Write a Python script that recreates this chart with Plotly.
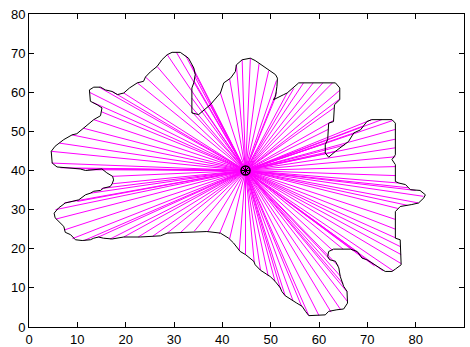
import plotly.graph_objects as go

# Boundary polygon (x, y), clockwise from the leftmost point
poly_x = [4.6, 5.4, 7.2, 8.9, 9.9, 11.3, 13.4, 14.8, 15.1, 14.1, 12.7, 12.5, 13.4, 14.8, 15.8, 17.2,
          18.3, 19.6, 20.8, 22.4, 23.7, 24.1, 25.1, 26.5, 27.5, 28.6, 29.6, 31.3, 32.0, 33.0, 34.1,
          34.4, 34.1, 33.7, 33.7, 35.1, 37.5, 39.6, 40.3, 41.7, 42.7, 42.9, 44.1, 45.8, 46.8, 48.9,
          51.0, 51.4, 51.3, 51.0, 50.6, 52.7, 53.4, 55.8, 63.4, 64.3, 64.3, 63.2, 63.0, 62.0, 61.8,
          61.3, 61.3, 62.0, 63.4, 66.1, 67.2, 68.6, 69.9, 70.9, 75.1, 75.8, 75.8, 75.1, 75.8, 75.8,
          76.5, 77.9, 78.9, 80.9, 82.0, 81.7, 80.6, 79.2, 76.8, 75.8, 75.8, 76.8, 77.0, 75.8, 75.1,
          73.7, 70.9, 69.9, 68.9, 67.9, 66.5, 63.0, 62.0, 61.8, 62.2, 63.4, 64.1, 64.4, 65.1, 65.8,
          65.9, 65.1, 63.7, 62.0, 61.3, 57.9, 57.2, 56.5, 55.4, 54.1, 53.0, 52.3, 52.0, 50.9, 49.9,
          47.9, 46.8, 46.5, 44.8, 43.7, 42.3, 41.3, 39.9, 39.6, 36.8, 35.4, 28.6, 27.2, 23.0, 19.6,
          18.5, 17.2, 15.4, 14.4, 13.4, 12.7, 11.0, 9.6, 8.6, 7.5, 7.2, 6.5, 5.4, 5.2, 6.1, 7.5,
          9.2, 10.3, 11.7, 12.7, 13.4, 14.8, 15.4, 16.8, 17.2, 17.5, 17.3, 16.1, 15.1, 12.7, 11.7,
          10.6, 8.6, 5.8, 4.8, 4.6]
poly_y = [44.9, 46.2, 47.9, 49.1, 49.4, 50.8, 53.0, 54.0, 56.0, 56.8, 57.7, 60.6, 61.3, 61.3, 60.6, 60.2,
          59.4, 59.8, 61.1, 62.4, 62.8, 63.9, 65.2, 66.6, 68.3, 69.6, 70.2, 70.2, 69.6, 68.7, 66.2,
          64.5, 62.4, 61.1, 54.7, 54.3, 56.8, 59.8, 62.4, 63.6, 65.3, 67.0, 68.3, 68.7, 68.1, 66.2,
          64.5, 63.6, 61.5, 58.9, 58.1, 59.4, 59.8, 62.4, 62.4, 61.1, 58.1, 56.8, 52.5, 52.1, 47.9,
          46.6, 44.5, 43.4, 44.9, 47.4, 49.6, 50.4, 52.5, 53.0, 53.0, 52.1, 44.0, 42.8, 41.5, 37.2,
          36.8, 36.4, 35.1, 34.9, 33.8, 33.0, 31.7, 31.3, 30.8, 29.5, 22.7, 22.3, 15.9, 14.8, 14.2,
          14.2, 16.4, 17.2, 17.6, 19.3, 19.9, 19.9, 19.3, 18.0, 17.2, 16.8, 15.1, 12.9, 10.4, 9.1,
          6.1, 4.6, 4.4, 4.0, 3.1, 2.9, 4.0, 5.3, 6.1, 7.2, 8.0, 9.1, 10.0, 11.7, 12.9,
          14.5, 15.9, 16.8, 18.5, 19.3, 21.5, 22.7, 23.6, 24.0, 24.4, 24.3, 24.0, 23.3, 23.0, 23.0,
          22.7, 22.5, 22.7, 23.0, 22.7, 22.3, 22.1, 22.3, 23.6, 24.2, 25.7, 26.6, 27.9, 29.1, 30.4, 31.7,
          32.1, 32.5, 33.8, 34.2, 34.7, 34.9, 35.5, 35.9, 36.6, 37.6, 38.5, 39.4, 40.4, 40.2, 40.0,
          40.4, 40.6, 40.9, 41.9, 44.9]

# Centre point
center_x = [44.8]
center_y = [40.0]

# Ray end points on the boundary
ray_x = [4.6, 6.3, 8.9, 11.3, 13.4, 15.0, 13.2, 12.5, 14.5, 17.2, 19.6, 22.4, 24.1, 26.5, 28.6,
         30.5, 32.4, 33.6, 34.3, 34.2, 33.7, 33.7, 36.2, 37.5, 39.6, 41.5, 42.9, 44.1, 45.8,
         47.6, 49.6, 51.2, 51.2, 50.9, 53.4, 54.8, 56.8, 58.8, 60.8, 62.8, 64.3, 64.3, 63.1,
         63.0, 61.9, 61.5, 61.3, 63.4, 65.3, 67.2, 69.2, 70.9, 73.0, 75.3, 75.8, 75.8, 75.8,
         75.8, 75.8, 75.8, 76.5, 78.4, 80.0, 81.6, 80.6, 78.3, 76.3, 75.8, 75.8, 75.8, 76.9,
         77.0, 77.0, 75.3, 73.2, 71.5, 69.4, 67.5, 65.0, 62.8, 62.3, 64.0, 64.5, 65.0, 65.8,
         65.9, 64.5, 62.5, 60.0, 57.9, 56.4, 54.6, 53.0, 52.0, 50.9, 49.5, 47.9, 46.6, 44.8,
         43.5, 41.5, 39.4, 37.0, 34.2, 31.4, 28.6, 25.6, 22.6, 19.6, 16.8, 14.2, 11.4, 9.0,
         7.3, 5.6, 5.5, 7.3, 10.0, 12.7, 15.0, 17.2, 17.2, 15.1, 12.2, 9.3, 6.5, 4.7]
ray_y = [44.9, 47.0, 49.1, 50.8, 53.0, 55.0, 57.4, 60.0, 61.3, 60.2, 59.8, 62.4, 63.9, 66.6, 69.6,
         70.2, 69.4, 67.0, 64.0, 62.8, 58.5, 55.0, 55.5, 56.8, 59.8, 63.5, 67.0, 68.3, 68.7,
         67.3, 65.5, 63.0, 60.0, 58.4, 59.8, 61.0, 62.4, 62.4, 62.4, 62.4, 60.5, 58.3, 56.0,
         52.8, 50.5, 47.0, 44.6, 44.9, 46.5, 49.6, 51.4, 53.0, 53.0, 52.8, 50.5, 48.0, 45.8,
         43.5, 41.0, 38.7, 36.8, 35.6, 34.9, 33.4, 31.7, 31.1, 30.3, 27.5, 25.0, 22.8, 20.5,
         18.5, 16.2, 14.4, 14.4, 15.6, 17.4, 19.6, 19.9, 19.6, 17.2, 15.6, 12.9, 11.0, 9.0,
         6.5, 4.4, 3.8, 2.9, 2.9, 5.3, 6.8, 8.0, 9.9, 11.7, 13.0, 14.5, 16.6, 18.5, 19.6,
         22.5, 23.8, 24.4, 24.5, 24.2, 24.0, 23.2, 23.0, 23.0, 22.5, 22.9, 22.1, 22.6, 24.8,
         27.6, 30.0, 31.7, 32.1, 34.2, 35.4, 36.6, 38.5, 40.4, 40.2, 40.5, 40.7, 41.9]

rx, ry = [], []
for ex, ey in zip(ray_x, ray_y):
    rx += [center_x[0], ex, None]
    ry += [center_y[0], ey, None]

fig = go.Figure()
fig.add_trace(go.Scatter(x=rx, y=ry, mode="lines",
                         line=dict(color="#ff00ff", width=1), hoverinfo="skip"))
fig.add_trace(go.Scatter(x=poly_x, y=poly_y, mode="lines",
                         line=dict(color="black", width=1)))
fig.add_trace(go.Scatter(x=center_x, y=center_y, mode="markers",
                         marker=dict(symbol="circle-open", size=9, color="black",
                                     line=dict(width=1.5, color="black"))))
fig.add_trace(go.Scatter(x=center_x, y=center_y, mode="markers",
                         marker=dict(symbol="asterisk-open", size=7, color="black",
                                     line=dict(width=1, color="black"))))

axis_common = dict(showgrid=False, zeroline=False, showline=True, linecolor="black",
                   linewidth=1, mirror="ticks", ticks="inside", ticklen=5,
                   tickcolor="black", automargin=False,
                   tickfont=dict(family="Liberation Sans, Arial", size=13, color="black"))
fig.update_xaxes(range=[0, 90], tickmode="array", tickvals=list(range(0, 91, 10)),
                 **axis_common)
fig.update_yaxes(range=[0, 80], tickmode="array", tickvals=list(range(0, 81, 10)),
                 **axis_common)
fig.update_layout(width=470, height=347, showlegend=False,
                  margin=dict(l=29, r=6, t=14, b=20),
                  paper_bgcolor="white", plot_bgcolor="white")
fig.write_html("out.html")
